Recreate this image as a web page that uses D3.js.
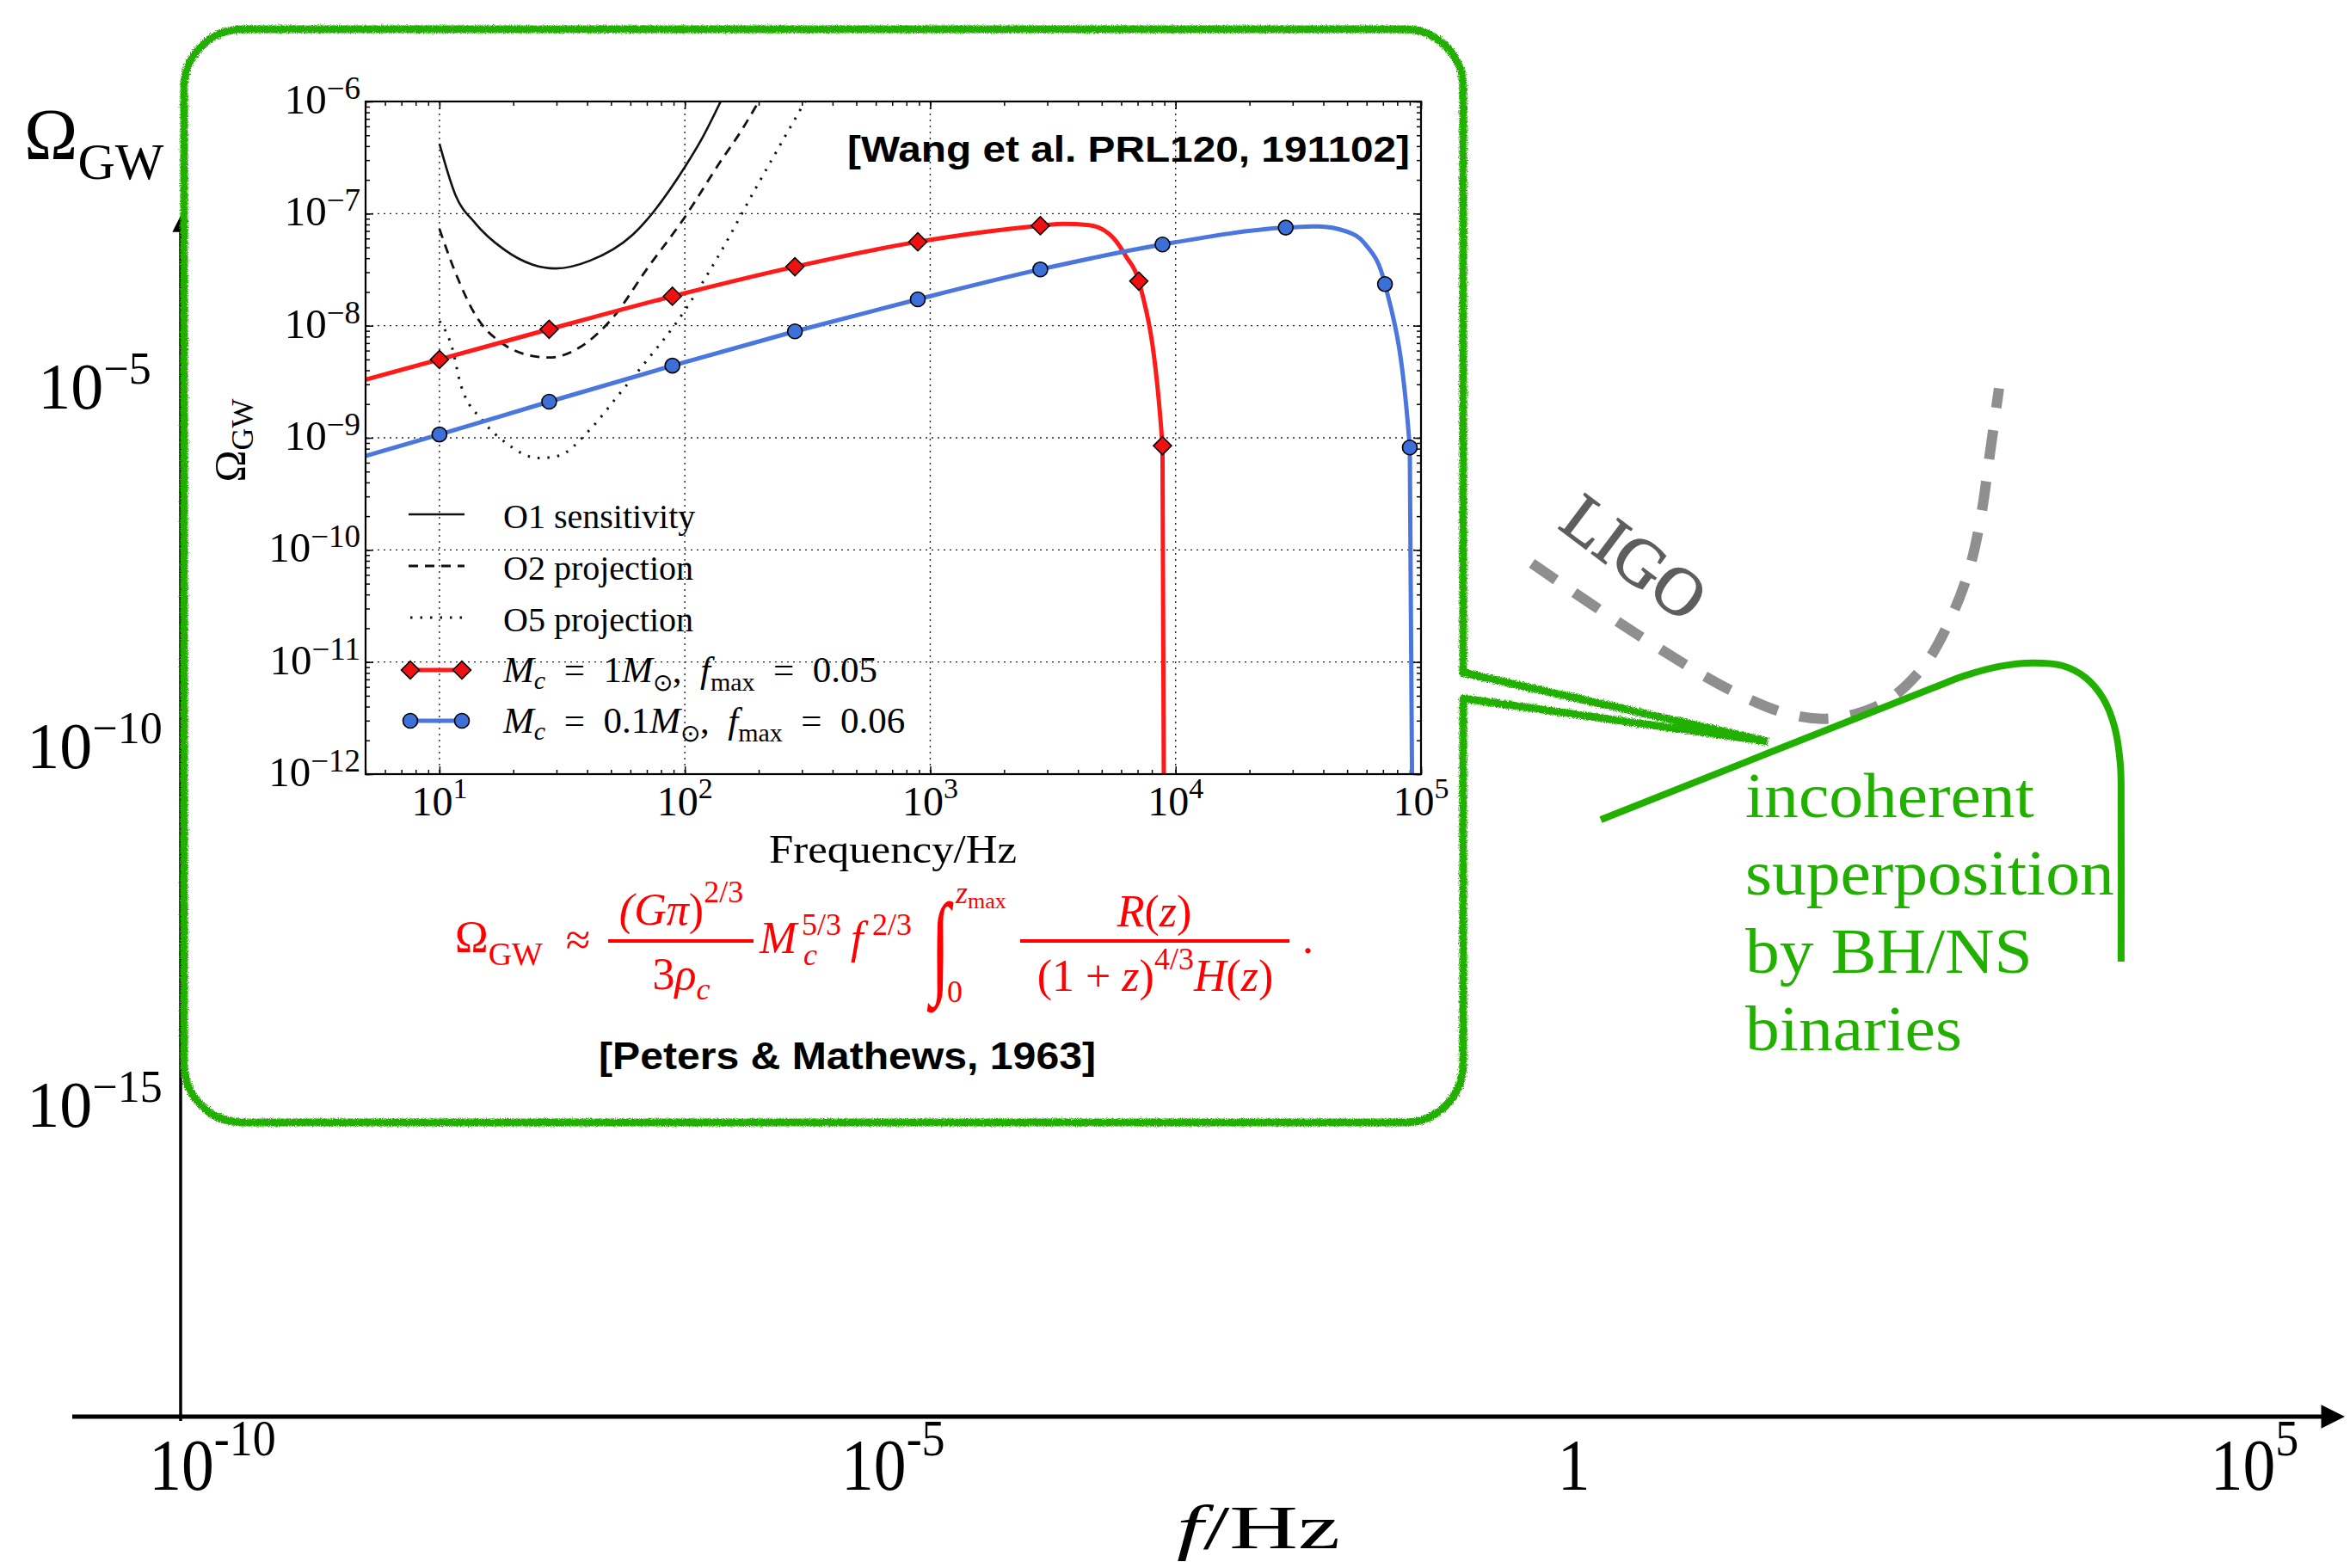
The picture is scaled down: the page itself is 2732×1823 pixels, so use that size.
<!DOCTYPE html>
<head>
  <meta charset="utf-8">
  <script src="https://d3js.org/d3.v7.min.js"></script>
  <style>
    body { margin:0; background:#fff; }
    text { font-family: "Liberation Serif", "Times New Roman", serif; }
    .bold { font-family: "Liberation Sans", Arial, sans-serif; font-weight: bold; }
  </style>
</head>
<body>
<script>
// ---- inset (Wang et al.): frequency in Hz, Omega_GW ----
var o1Freq  = [10, 11.6, 14, 18.3, 24, 29.7, 41, 61.4, 100, 117, 140];
var o1Omega = [4.2e-7, 1.48e-7, 8.2e-8, 4.8e-8, 3.5e-8, 3.24e-8, 3.8e-8, 6.5e-8, 2.6e-7, 4.6e-7, 1e-6];
var o2Freq  = [10, 11.6, 14, 18.3, 22.1, 28.1, 36.8, 50.9, 70, 100, 138, 170, 200];
var o2Omega = [7.3e-8, 3e-8, 1.25e-8, 6.8e-9, 5.6e-9, 5.2e-9, 6.3e-9, 1.18e-8, 3.2e-8, 9.3e-8, 2.8e-7, 5.5e-7, 1e-6];
var o5Freq  = [10, 11.3, 12.2, 15.1, 18.8, 25.3, 30.5, 41, 53.6, 70, 92, 138, 192, 309];
var o5Omega = [1.1e-8, 6.2e-9, 3.0e-9, 1.4e-9, 8.9e-10, 6.6e-10, 6.9e-10, 1.18e-9, 2.4e-9, 4.9e-9, 1.05e-8, 4.3e-8, 1.6e-7, 1e-6];

var redFreq  = [5, 10, 28, 89, 281, 890, 2810, 3500, 4430, 5600, 6300, 7080, 8840, 8950];
var redOmega = [3.3e-9, 5.0e-9, 9.3e-9, 1.83e-8, 3.36e-8, 5.6e-8, 7.8e-8, 8.1e-8, 7.9e-8, 6e-8, 4.1e-8, 2.5e-8, 8.5e-10, 1e-12];
var redMarkFreq  = [10, 28, 89, 281, 890, 2810, 7080, 8840];
var redMarkOmega = [5.0e-9, 9.3e-9, 1.83e-8, 3.36e-8, 5.6e-8, 7.8e-8, 2.5e-8, 8.5e-10];

var blueFreq  = [5, 10, 28, 89, 281, 890, 2810, 8840, 28100, 38000, 50000, 59000, 71300, 90000, 91900];
var blueOmega = [6.9e-10, 1.07e-9, 2.1e-9, 4.4e-9, 8.9e-9, 1.72e-8, 3.18e-8, 5.3e-8, 7.5e-8, 7.7e-8, 6.9e-8, 5.4e-8, 2.35e-8, 8.2e-10, 1e-12];
var blueMarkFreq  = [10, 28, 89, 281, 890, 2810, 8840, 28100, 71300, 90000];
var blueMarkOmega = [1.07e-9, 2.1e-9, 4.4e-9, 8.9e-9, 1.72e-8, 3.18e-8, 5.3e-8, 7.5e-8, 2.35e-8, 8.2e-10];

var insetXTicks = [10, 100, 1000, 10000, 100000];
var insetXExp   = ["1", "2", "3", "4", "5"];
var insetYTicks = [1e-6, 1e-7, 1e-8, 1e-9, 1e-10, 1e-11, 1e-12];
var insetYExp   = ["\u22126", "\u22127", "\u22128", "\u22129", "\u221210", "\u221211", "\u221212"];

// ---- outer schematic, log10 units ----
var ligoLogF     = [-0.308, 0.450, 1.171, 1.600, 1.904, 2.276, 2.573, 2.782, 2.908, 2.991, 3.054, 3.123];
var ligoLogOmega = [-7.455, -8.425, -9.240, -9.563, -9.611, -9.395, -8.880, -8.162, -7.515, -6.796, -5.958, -5.018];
var binLogF      = [0.198, 2.618, 2.870, 3.123, 3.376, 3.591, 3.761, 3.888, 3.970, 4.014, 4.020, 4.020];
var binLogOmega  = [-11.024, -9.204, -9.02, -8.89, -8.84, -8.88, -9.048, -9.335, -9.719, -10.246, -10.892, -13.0];

var outerXTicks = [-10, -5, 0, 5];
var outerXBase  = ["10", "10", "1", "10"];
var outerXExp   = ["-10", "-5", "", "5"];
var outerYTicks = [-5, -10, -15];
var outerYExp   = ["\u22125", "\u221210", "\u221215"];
var binLines    = ["incoherent", "superposition", "by BH/NS", "binaries"];

var green = "#22b000";

var svg = d3.select("body").append("svg")
  .attr("width", 2732).attr("height", 1823)
  .style("background", "#fff");

var defs = svg.append("defs");
var rough = defs.append("filter").attr("id", "rough")
  .attr("x", "-5%").attr("y", "-5%").attr("width", "110%").attr("height", "110%");
rough.append("feTurbulence").attr("type", "fractalNoise").attr("baseFrequency", 0.9)
  .attr("numOctaves", 2).attr("seed", 4).attr("result", "noise");
rough.append("feDisplacementMap").attr("in", "SourceGraphic").attr("in2", "noise")
  .attr("scale", 6).attr("xChannelSelector", "R").attr("yChannelSelector", "G");

defs.append("marker").attr("id", "arrow")
  .attr("viewBox", "0 0 10 10").attr("refX", 2).attr("refY", 5)
  .attr("markerWidth", 6).attr("markerHeight", 5.5).attr("orient", "auto")
  .append("path").attr("d", "M0,0 L10,5 L0,10 z").attr("fill", "#000");

defs.append("clipPath").attr("id", "plotclip")
  .append("rect").attr("x", 425).attr("y", 118).attr("width", 1227).attr("height", 782);

// text with sub/superscript parts
function rich(g, x, y, size, parts, anchor) {
  var t = g.append("text").attr("x", x).attr("y", y).attr("font-size", size);
  if (anchor) t.attr("text-anchor", anchor);
  var shift = 0;
  parts.forEach(function(p) {
    var target = p.sub ? (p.sub === true ? size * 0.28 : p.sub) : p.sup ? -(p.sup === true ? size * 0.4 : p.sup) : 0;
    var s = t.append("tspan").text(p.t);
    if (target - shift !== 0) s.attr("dy", target - shift);
    shift = target;
    if (p.sub || p.sup) s.attr("font-size", p.size || size * 0.7);
    if (p.i) s.attr("font-style", "italic");
  });
  return t;
}

// ================= outer schematic =================
var xOut = d3.scaleLinear().domain([-10, 5]).range([247, 2621]);
var yOut = d3.scaleLinear().domain([-15, -5]).range([1285, 450]);

svg.append("line").attr("x1", 84).attr("x2", 2704).attr("y1", 1647).attr("y2", 1647)
  .attr("stroke", "#000").attr("stroke-width", 5).attr("marker-end", "url(#arrow)");
svg.append("line").attr("x1", 210).attr("x2", 210).attr("y1", 1652).attr("y2", 266)
  .attr("stroke", "#000").attr("stroke-width", 3.5).attr("marker-end", "url(#arrow)");

outerXTicks.forEach(function(v, i) {
  var g = svg.append("g").attr("transform", "translate(" + xOut(v) + ",1732) scale(0.9,1)");
  var parts = [{t: outerXBase[i]}];
  if (outerXExp[i]) parts.push({t: outerXExp[i], sup: 40, size: 60});
  rich(g, 0, 0, 84, parts, "middle");
});
rich(svg, 1463, 1800, 72, [{t: "f", i: 1}, {t: "/Hz"}], "middle").attr("textLength", 190).attr("lengthAdjust", "spacingAndGlyphs");

outerYTicks.forEach(function(v, i) {
  rich(svg, 110, yOut(v) + 25, 76, [{t: "10"}, {t: outerYExp[i], sup: 29, size: 52}], "middle");
});
rich(svg, 28, 185, 84, [{t: "\u03A9"}, {t: "GW", sub: 23, size: 60}]);

var outerLine = d3.line().curve(d3.curveCatmullRom.alpha(0.5))
  .x(function(d) { return xOut(d[0]); }).y(function(d) { return yOut(d[1]); });

svg.append("path").datum(d3.zip(ligoLogF, ligoLogOmega)).attr("d", outerLine)
  .attr("fill", "none").attr("stroke", "#8f8f8f").attr("stroke-width", 12)
  .attr("stroke-dasharray", "34,26");
svg.append("text").attr("transform", "translate(1810,613) rotate(37)")
  .attr("font-family", "Liberation Mono, Courier New, monospace").attr("font-size", 78)
  .attr("fill", "#5e5e5e").attr("stroke", "#5e5e5e").attr("stroke-width", 1.5)
  .text("LIGO");

svg.append("path").datum(d3.zip(binLogF, binLogOmega)).attr("d", outerLine)
  .attr("fill", "none").attr("stroke", green).attr("stroke-width", 8)
  .attr("stroke-linejoin", "round");

var gt = svg.append("g").attr("transform", "translate(2029,0) scale(1.09,1)");
gt.selectAll("text").data(binLines).enter().append("text")
  .attr("x", 0).attr("y", function(d, i) { return 950 + i * 90.5; })
  .attr("font-size", 73).attr("fill", green).text(function(d) { return d; });

// ================= callout box =================
var bx0 = 214, bx1 = 1701, by0 = 34, by1 = 1305, br = 68;
var bp = d3.path();
bp.moveTo(2055, 862);
bp.lineTo(bx1, 812);
bp.lineTo(bx1, by1 - br);
bp.arcTo(bx1, by1, bx1 - br, by1, br);
bp.lineTo(bx0 + br, by1);
bp.arcTo(bx0, by1, bx0, by1 - br, br);
bp.lineTo(bx0, by0 + br);
bp.arcTo(bx0, by0, bx0 + br, by0, br);
bp.lineTo(bx1 - br, by0);
bp.arcTo(bx1, by0, bx1, by0 + br, br);
bp.lineTo(bx1, 782);
bp.lineTo(2055, 862);
svg.append("path").attr("d", bp.toString()).attr("fill", "#fff")
  .attr("stroke", green).attr("stroke-width", 9).attr("stroke-linejoin", "round")
  .attr("filter", "url(#rough)");

// ================= inset plot =================
var xIn = d3.scaleLog().domain([5, 1e5]).range([425, 1652]);
var yIn = d3.scaleLog().domain([1e-12, 1e-6]).range([900, 118]);
var inset = svg.append("g");

// grid
inset.selectAll(".vgrid").data(insetXTicks.slice(0, 4)).enter().append("line")
  .attr("x1", function(d) { return xIn(d); }).attr("x2", function(d) { return xIn(d); })
  .attr("y1", 118).attr("y2", 900)
  .attr("stroke", "#222").attr("stroke-width", 1.4).attr("stroke-dasharray", "2,5");
inset.selectAll(".hgrid").data(insetYTicks.slice(1, 6)).enter().append("line")
  .attr("y1", function(d) { return yIn(d); }).attr("y2", function(d) { return yIn(d); })
  .attr("x1", 425).attr("x2", 1652)
  .attr("stroke", "#222").attr("stroke-width", 1.4).attr("stroke-dasharray", "2,5");

// ticks (inward, all four sides)
function ticksOn(axis, tr, vals, size) {
  var g = inset.append("g").attr("transform", tr)
    .call(axis.tickValues(vals).tickSize(size).tickFormat(""));
  g.select(".domain").remove();
  g.selectAll("line").attr("stroke", "#000").attr("stroke-width", 1.5);
}
var xMinor = xIn.ticks(), yMinor = yIn.ticks();
ticksOn(d3.axisBottom(xIn), "translate(0,900)", xMinor, -5);
ticksOn(d3.axisBottom(xIn), "translate(0,900)", insetXTicks, -9);
ticksOn(d3.axisTop(xIn), "translate(0,118)", xMinor, -5);
ticksOn(d3.axisTop(xIn), "translate(0,118)", insetXTicks, -9);
ticksOn(d3.axisLeft(yIn), "translate(425,0)", yMinor, -5);
ticksOn(d3.axisLeft(yIn), "translate(425,0)", insetYTicks, -9);
ticksOn(d3.axisRight(yIn), "translate(1652,0)", yMinor, -5);
ticksOn(d3.axisRight(yIn), "translate(1652,0)", insetYTicks, -9);

insetXTicks.forEach(function(v, i) {
  rich(inset, xIn(v), 948, 48, [{t: "10"}, {t: insetXExp[i], sup: 20, size: 34}], "middle");
});
insetYTicks.forEach(function(v, i) {
  rich(inset, 419, yIn(v) + 14, 49, [{t: "10"}, {t: insetYExp[i], sup: 17, size: 37}], "end");
});
rich(inset, 1038, 1003, 46, [{t: "Frequency/Hz"}], "middle")
  .attr("textLength", 288).attr("lengthAdjust", "spacingAndGlyphs");
rich(inset.append("g").attr("transform", "translate(284,512) rotate(-90)"), 0, 0, 50,
  [{t: "\u03A9"}, {t: "GW", sub: 10, size: 36}], "middle");

var curves = inset.append("g").attr("clip-path", "url(#plotclip)");
var smooth = d3.line().curve(d3.curveMonotoneX)
  .x(function(d) { return xIn(d[0]); }).y(function(d) { return yIn(d[1]); });

curves.append("path").datum(d3.zip(o1Freq, o1Omega)).attr("d", smooth)
  .attr("fill", "none").attr("stroke", "#111").attr("stroke-width", 2.6);
curves.append("path").datum(d3.zip(o2Freq, o2Omega)).attr("d", smooth)
  .attr("fill", "none").attr("stroke", "#111").attr("stroke-width", 2.8).attr("stroke-dasharray", "11,8");
curves.append("path").datum(d3.zip(o5Freq, o5Omega)).attr("d", smooth)
  .attr("fill", "none").attr("stroke", "#111").attr("stroke-width", 3).attr("stroke-dasharray", "2.5,9");

curves.append("path").datum(d3.zip(redFreq, redOmega)).attr("d", smooth)
  .attr("fill", "none").attr("stroke", "#ff1a1a").attr("stroke-width", 5);
curves.append("path").datum(d3.zip(blueFreq, blueOmega)).attr("d", smooth)
  .attr("fill", "none").attr("stroke", "#4a76dd").attr("stroke-width", 5);

var diamond = d3.symbol().type(d3.symbolSquare).size(220);
curves.selectAll(".rm").data(d3.zip(redMarkFreq, redMarkOmega)).enter().append("path")
  .attr("d", diamond)
  .attr("transform", function(d) { return "translate(" + xIn(d[0]) + "," + yIn(d[1]) + ") rotate(45)"; })
  .attr("fill", "#ee1111").attr("stroke", "#000").attr("stroke-width", 1.6);
curves.selectAll(".bm").data(d3.zip(blueMarkFreq, blueMarkOmega)).enter().append("circle")
  .attr("cx", function(d) { return xIn(d[0]); }).attr("cy", function(d) { return yIn(d[1]); })
  .attr("r", 8.5).attr("fill", "#3d6fd8").attr("stroke", "#000").attr("stroke-width", 1.6);

inset.append("rect").attr("x", 425).attr("y", 118).attr("width", 1227).attr("height", 782)
  .attr("fill", "none").attr("stroke", "#000").attr("stroke-width", 2.2);

// legend
var leg = inset.append("g");
var rows = [598, 658, 718, 779, 838];
leg.append("line").attr("x1", 475).attr("x2", 540).attr("y1", rows[0]).attr("y2", rows[0]).attr("stroke", "#111").attr("stroke-width", 2.6);
leg.append("line").attr("x1", 475).attr("x2", 540).attr("y1", rows[1]).attr("y2", rows[1]).attr("stroke", "#111").attr("stroke-width", 2.8).attr("stroke-dasharray", "11,8");
leg.append("line").attr("x1", 477).attr("x2", 540).attr("y1", rows[2]).attr("y2", rows[2]).attr("stroke", "#111").attr("stroke-width", 3).attr("stroke-dasharray", "2.5,9");
leg.append("line").attr("x1", 477).attr("x2", 537).attr("y1", rows[3]).attr("y2", rows[3]).attr("stroke", "#ff1a1a").attr("stroke-width", 5);
leg.append("line").attr("x1", 477).attr("x2", 537).attr("y1", rows[4]).attr("y2", rows[4]).attr("stroke", "#4a76dd").attr("stroke-width", 5);
[477, 537].forEach(function(x) {
  leg.append("path").attr("d", diamond).attr("transform", "translate(" + x + "," + rows[3] + ") rotate(45)")
    .attr("fill", "#ee1111").attr("stroke", "#000").attr("stroke-width", 1.6);
  leg.append("circle").attr("cx", x).attr("cy", rows[4]).attr("r", 8.5)
    .attr("fill", "#3d6fd8").attr("stroke", "#000").attr("stroke-width", 1.6);
});
rich(leg, 585, rows[0] + 16, 40, [{t: "O1 sensitivity"}]);
rich(leg, 585, rows[1] + 16, 40, [{t: "O2 projection"}]);
rich(leg, 585, rows[2] + 16, 40, [{t: "O5 projection"}]);
var sp = "\u2002";
rich(leg, 585, rows[3] + 14, 43, [{t: "M", i: 1}, {t: "c", i: 1, sub: 8, size: 30}, {t: sp + "=" + sp + "1"}, {t: "M", i: 1},
  {t: "\u2299", sub: 10, size: 28}, {t: "," + sp}, {t: "f", i: 1}, {t: "max", sub: 10, size: 30}, {t: sp + "=" + sp + "0.05"}]);
rich(leg, 585, rows[4] + 14, 43, [{t: "M", i: 1}, {t: "c", i: 1, sub: 8, size: 30}, {t: sp + "=" + sp + "0.1"}, {t: "M", i: 1},
  {t: "\u2299", sub: 10, size: 28}, {t: "," + sp}, {t: "f", i: 1}, {t: "max", sub: 10, size: 30}, {t: sp + "=" + sp + "0.06"}]);

inset.append("text").attr("class", "bold").attr("x", 985).attr("y", 188).attr("font-size", 42)
  .attr("textLength", 654).attr("lengthAdjust", "spacingAndGlyphs")
  .text("[Wang et al. PRL120, 191102]");
inset.append("text").attr("class", "bold").attr("x", 696).attr("y", 1243).attr("font-size", 45)
  .attr("textLength", 578).attr("lengthAdjust", "spacingAndGlyphs")
  .text("[Peters & Mathews, 1963]");

// formula (Peters & Mathews)
var fm = inset.append("g").attr("fill", "#f00");
rich(fm, 529, 1107, 52, [{t: "\u03A9"}, {t: "GW", sub: 15, size: 38}]);
rich(fm, 672, 1110, 52, [{t: "\u2248"}], "middle");
fm.append("line").attr("x1", 707).attr("x2", 876).attr("y1", 1094).attr("y2", 1094).attr("stroke", "#f00").attr("stroke-width", 4);
rich(fm, 792, 1075, 52, [{t: "(G", i: 1}, {t: "\u03C0", i: 1}, {t: ")"}, {t: "2/3", sup: 26, size: 36}], "middle");
rich(fm, 792, 1150, 52, [{t: "3"}, {t: "\u03C1", i: 1}, {t: "c", i: 1, sub: 12, size: 36}], "middle");
rich(fm, 883, 1108, 52, [{t: "M", i: 1}]);
rich(fm, 932, 1087, 36, [{t: "5/3"}]);
rich(fm, 934, 1122, 36, [{t: "c", i: 1}]);
rich(fm, 989, 1108, 52, [{t: "f", i: 1}]);
rich(fm, 1014, 1087, 36, [{t: "2/3"}]);
fm.append("text").attr("transform", "translate(1082,1142) scale(0.85,1.38)")
  .attr("font-size", 96).text("\u222B");
rich(fm, 1111, 1050, 36, [{t: "z", i: 1}, {t: "max", sub: 6, size: 26}]);
rich(fm, 1101, 1165, 36, [{t: "0"}]);
fm.append("line").attr("x1", 1186).attr("x2", 1499).attr("y1", 1094).attr("y2", 1094).attr("stroke", "#f00").attr("stroke-width", 4);
rich(fm, 1342, 1077, 52, [{t: "R", i: 1}, {t: "("}, {t: "z", i: 1}, {t: ")"}], "middle");
rich(fm, 1343, 1152, 52, [{t: "(1 + "}, {t: "z", i: 1}, {t: ")"}, {t: "4/3", sup: 25, size: 36},
  {t: "H", i: 1}, {t: "("}, {t: "z", i: 1}, {t: ")"}], "middle");
rich(fm, 1514, 1108, 52, [{t: "."}]);
</script>
</body>
